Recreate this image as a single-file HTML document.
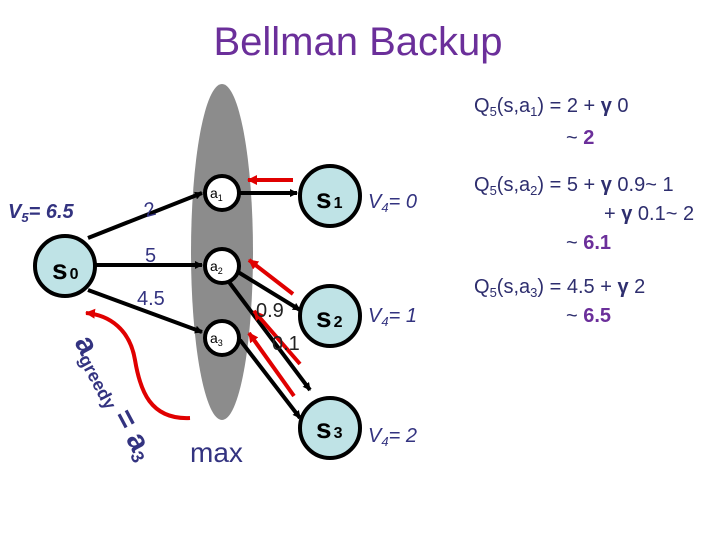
<!DOCTYPE html>
<html><head><meta charset="utf-8"><style>
html,body{margin:0;padding:0;background:#fff;width:720px;height:540px;overflow:hidden}
svg{display:block}
text{font-family:"Liberation Sans",sans-serif}
</style></head><body>
<svg width="720" height="540" viewBox="0 0 720 540" xmlns="http://www.w3.org/2000/svg">
<defs>
<marker id="bk" markerWidth="8" markerHeight="8" refX="7" refY="4" orient="auto" markerUnits="userSpaceOnUse"><path d="M0,0 L8,4 L0,8 z" fill="#000"/></marker>
<marker id="rd" markerWidth="10" markerHeight="10" refX="9" refY="5" orient="auto" markerUnits="userSpaceOnUse"><path d="M0,0 L10,5 L0,10 z" fill="#e00000"/></marker>
</defs>
<text x="358" y="55" font-size="40" fill="#6b2f9a" text-anchor="middle">Bellman Backup</text>
<ellipse cx="222" cy="252" rx="31" ry="168" fill="#8c8c8c"/>
<!-- black edges -->
<g stroke="#000" stroke-width="4" fill="none">
<line x1="88" y1="238" x2="202" y2="193" marker-end="url(#bk)"/>
<line x1="96" y1="265" x2="202" y2="265" marker-end="url(#bk)"/>
<line x1="88" y1="290" x2="202" y2="332" marker-end="url(#bk)"/>
<line x1="240" y1="193" x2="297" y2="193" marker-end="url(#bk)"/>
<line x1="238" y1="272" x2="300" y2="310" marker-end="url(#bk)"/>
<line x1="229" y1="282" x2="310" y2="390" marker-end="url(#bk)"/>
<line x1="240" y1="340" x2="300" y2="418" marker-end="url(#bk)"/>
</g>
<!-- red arrows -->
<g stroke="#e00000" stroke-width="4" fill="none">
<line x1="293" y1="180" x2="248" y2="180" marker-end="url(#rd)"/>
<line x1="293" y1="294" x2="249" y2="260" marker-end="url(#rd)"/>
<line x1="300" y1="364" x2="254" y2="311" marker-end="url(#rd)"/>
<line x1="294" y1="396" x2="249" y2="333" marker-end="url(#rd)"/>
<path d="M190,418 C150,420 140,390 135,360 C130,330 110,315 86,313" marker-end="url(#rd)"/>
</g>
<!-- nodes -->
<g stroke="#000" stroke-width="4">
<circle cx="65" cy="266" r="30" fill="#bfe3e6"/>
<circle cx="330" cy="196" r="30" fill="#bfe3e6"/>
<circle cx="330" cy="316" r="30" fill="#bfe3e6"/>
<circle cx="330" cy="428" r="30" fill="#bfe3e6"/>
<circle cx="222" cy="193" r="17" fill="#fff"/>
<circle cx="222" cy="266" r="17" fill="#fff"/>
<circle cx="222" cy="338" r="17" fill="#fff"/>
</g>
<g font-weight="bold" fill="#000">
<text x="52" y="279" font-size="28">s<tspan font-size="16" dx="2">0</tspan></text>
<text x="316" y="208" font-size="28">s<tspan font-size="16" dx="2">1</tspan></text>
<text x="316" y="327" font-size="28">s<tspan font-size="16" dx="2">2</tspan></text>
<text x="316" y="438" font-size="28">s<tspan font-size="16" dx="2">3</tspan></text>
</g>
<g fill="#000" font-size="14">
<text x="210" y="198">a<tspan font-size="9" dy="3">1</tspan></text>
<text x="210" y="271">a<tspan font-size="9" dy="3">2</tspan></text>
<text x="210" y="343">a<tspan font-size="9" dy="3">3</tspan></text>
</g>
<g fill="#333380" font-size="20">
<text x="144" y="216" transform="rotate(-15 150 208)">2</text>
<text x="145" y="262">5</text>
<text x="137" y="305">4.5</text>
<text x="190" y="462" font-size="28">max</text>
</g>
<text x="256" y="317" font-size="20" fill="#222">0.9</text>
<text x="272" y="350" font-size="20" fill="#222">0.1</text>
<text x="8" y="218" font-size="20" font-weight="bold" font-style="italic" fill="#333380">V<tspan font-size="13" dy="4">5</tspan><tspan dy="-4">= 6.5</tspan></text>
<g font-size="20" font-style="italic" fill="#333380">
<text x="368" y="208">V<tspan font-size="13" dy="4">4</tspan><tspan dy="-4">= 0</tspan></text>
<text x="368" y="322">V<tspan font-size="13" dy="4">4</tspan><tspan dy="-4">= 1</tspan></text>
<text x="368" y="442">V<tspan font-size="13" dy="4">4</tspan><tspan dy="-4">= 2</tspan></text>
</g>
<g transform="translate(74,342) rotate(62)" fill="#333380" font-weight="bold">
<text x="0" y="0" font-size="30">a<tspan font-size="18" dy="4">greedy</tspan><tspan dy="-4" dx="8">= a</tspan><tspan font-size="18" dy="4">3</tspan></text>
</g>
<g fill="#2e2e6e" font-size="20">
<text x="474" y="112">Q<tspan font-size="13" dy="4">5</tspan><tspan dy="-4">(s,a</tspan><tspan font-size="13" dy="4">1</tspan><tspan dy="-4">) = 2 + </tspan><tspan font-weight="bold">γ</tspan> 0</text>
<text x="566" y="144">~ <tspan font-weight="bold" fill="#6b2f9a">2</tspan></text>
<text x="474" y="191">Q<tspan font-size="13" dy="4">5</tspan><tspan dy="-4">(s,a</tspan><tspan font-size="13" dy="4">2</tspan><tspan dy="-4">) = 5 + </tspan><tspan font-weight="bold">γ</tspan> 0.9~ 1</text>
<text x="604" y="220">+ <tspan font-weight="bold">γ</tspan> 0.1~ 2</text>
<text x="566" y="249">~ <tspan font-weight="bold" fill="#6b2f9a">6.1</tspan></text>
<text x="474" y="293">Q<tspan font-size="13" dy="4">5</tspan><tspan dy="-4">(s,a</tspan><tspan font-size="13" dy="4">3</tspan><tspan dy="-4">) = 4.5 + </tspan><tspan font-weight="bold">γ</tspan> 2</text>
<text x="566" y="322">~ <tspan font-weight="bold" fill="#6b2f9a">6.5</tspan></text>
</g>
</svg>
</body></html>
